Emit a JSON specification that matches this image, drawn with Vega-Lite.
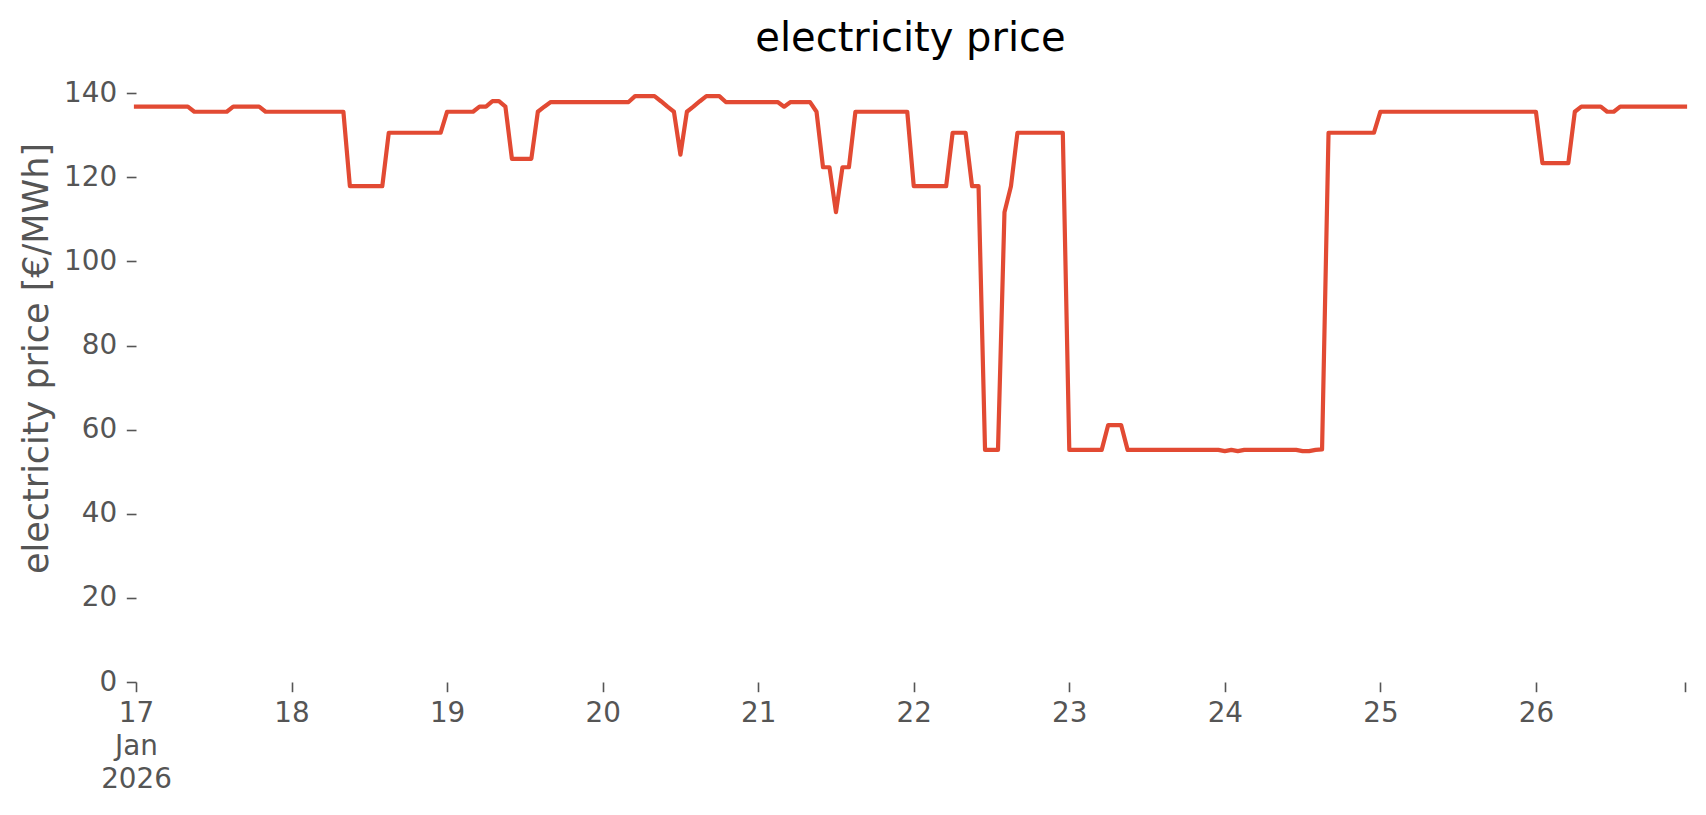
{
  "$schema": "https://vega.github.io/schema/vega-lite/v6.json",
  "autosize": {"type": "none"},
  "padding": {"left": 136, "top": 68, "right": 21, "bottom": 133},
  "width": 1549,
  "height": 614,
  "background": "white",
  "config": {"view": {"stroke": null}, "font": "DejaVu Sans"},
  "title": {"text": "electricity price", "fontSize": 40, "font": "DejaVu Sans", "fontWeight": "normal", "color": "#000000", "anchor": "middle", "frame": "group", "offset": -23, "baseline": "alphabetic"},
  "data": {"values": [
    {"t": "2026-01-17T00:00", "price": 136.8}, {"t": "2026-01-17T01:00", "price": 136.8}, {"t": "2026-01-17T02:00", "price": 136.8}, {"t": "2026-01-17T03:00", "price": 136.8},
    {"t": "2026-01-17T04:00", "price": 136.8}, {"t": "2026-01-17T05:00", "price": 136.8}, {"t": "2026-01-17T06:00", "price": 136.8}, {"t": "2026-01-17T07:00", "price": 136.8},
    {"t": "2026-01-17T08:00", "price": 136.8}, {"t": "2026-01-17T09:00", "price": 135.6}, {"t": "2026-01-17T10:00", "price": 135.6}, {"t": "2026-01-17T11:00", "price": 135.6},
    {"t": "2026-01-17T12:00", "price": 135.6}, {"t": "2026-01-17T13:00", "price": 135.6}, {"t": "2026-01-17T14:00", "price": 135.6}, {"t": "2026-01-17T15:00", "price": 136.8},
    {"t": "2026-01-17T16:00", "price": 136.8}, {"t": "2026-01-17T17:00", "price": 136.8}, {"t": "2026-01-17T18:00", "price": 136.8}, {"t": "2026-01-17T19:00", "price": 136.8},
    {"t": "2026-01-17T20:00", "price": 135.6}, {"t": "2026-01-17T21:00", "price": 135.6}, {"t": "2026-01-17T22:00", "price": 135.6}, {"t": "2026-01-17T23:00", "price": 135.6},
    {"t": "2026-01-18T00:00", "price": 135.6}, {"t": "2026-01-18T01:00", "price": 135.6}, {"t": "2026-01-18T02:00", "price": 135.6}, {"t": "2026-01-18T03:00", "price": 135.6},
    {"t": "2026-01-18T04:00", "price": 135.6}, {"t": "2026-01-18T05:00", "price": 135.6}, {"t": "2026-01-18T06:00", "price": 135.6}, {"t": "2026-01-18T07:00", "price": 135.6},
    {"t": "2026-01-18T08:00", "price": 135.6}, {"t": "2026-01-18T09:00", "price": 117.9}, {"t": "2026-01-18T10:00", "price": 117.9}, {"t": "2026-01-18T11:00", "price": 117.9},
    {"t": "2026-01-18T12:00", "price": 117.9}, {"t": "2026-01-18T13:00", "price": 117.9}, {"t": "2026-01-18T14:00", "price": 117.9}, {"t": "2026-01-18T15:00", "price": 130.6},
    {"t": "2026-01-18T16:00", "price": 130.6}, {"t": "2026-01-18T17:00", "price": 130.6}, {"t": "2026-01-18T18:00", "price": 130.6}, {"t": "2026-01-18T19:00", "price": 130.6},
    {"t": "2026-01-18T20:00", "price": 130.6}, {"t": "2026-01-18T21:00", "price": 130.6}, {"t": "2026-01-18T22:00", "price": 130.6}, {"t": "2026-01-18T23:00", "price": 130.6},
    {"t": "2026-01-19T00:00", "price": 135.6}, {"t": "2026-01-19T01:00", "price": 135.6}, {"t": "2026-01-19T02:00", "price": 135.6}, {"t": "2026-01-19T03:00", "price": 135.6},
    {"t": "2026-01-19T04:00", "price": 135.6}, {"t": "2026-01-19T05:00", "price": 136.8}, {"t": "2026-01-19T06:00", "price": 136.8}, {"t": "2026-01-19T07:00", "price": 138.1},
    {"t": "2026-01-19T08:00", "price": 138.1}, {"t": "2026-01-19T09:00", "price": 136.8}, {"t": "2026-01-19T10:00", "price": 124.4}, {"t": "2026-01-19T11:00", "price": 124.4},
    {"t": "2026-01-19T12:00", "price": 124.4}, {"t": "2026-01-19T13:00", "price": 124.4}, {"t": "2026-01-19T14:00", "price": 135.6}, {"t": "2026-01-19T15:00", "price": 136.8},
    {"t": "2026-01-19T16:00", "price": 137.9}, {"t": "2026-01-19T17:00", "price": 137.9}, {"t": "2026-01-19T18:00", "price": 137.9}, {"t": "2026-01-19T19:00", "price": 137.9},
    {"t": "2026-01-19T20:00", "price": 137.9}, {"t": "2026-01-19T21:00", "price": 137.9}, {"t": "2026-01-19T22:00", "price": 137.9}, {"t": "2026-01-19T23:00", "price": 137.9},
    {"t": "2026-01-20T00:00", "price": 137.9}, {"t": "2026-01-20T01:00", "price": 137.9}, {"t": "2026-01-20T02:00", "price": 137.9}, {"t": "2026-01-20T03:00", "price": 137.9},
    {"t": "2026-01-20T04:00", "price": 137.9}, {"t": "2026-01-20T05:00", "price": 139.3}, {"t": "2026-01-20T06:00", "price": 139.3}, {"t": "2026-01-20T07:00", "price": 139.3},
    {"t": "2026-01-20T08:00", "price": 139.3}, {"t": "2026-01-20T09:00", "price": 138.1}, {"t": "2026-01-20T10:00", "price": 136.8}, {"t": "2026-01-20T11:00", "price": 135.6},
    {"t": "2026-01-20T12:00", "price": 125.4}, {"t": "2026-01-20T13:00", "price": 135.6}, {"t": "2026-01-20T14:00", "price": 136.8}, {"t": "2026-01-20T15:00", "price": 138.1},
    {"t": "2026-01-20T16:00", "price": 139.3}, {"t": "2026-01-20T17:00", "price": 139.3}, {"t": "2026-01-20T18:00", "price": 139.3}, {"t": "2026-01-20T19:00", "price": 137.9},
    {"t": "2026-01-20T20:00", "price": 137.9}, {"t": "2026-01-20T21:00", "price": 137.9}, {"t": "2026-01-20T22:00", "price": 137.9}, {"t": "2026-01-20T23:00", "price": 137.9},
    {"t": "2026-01-21T00:00", "price": 137.9}, {"t": "2026-01-21T01:00", "price": 137.9}, {"t": "2026-01-21T02:00", "price": 137.9}, {"t": "2026-01-21T03:00", "price": 137.9},
    {"t": "2026-01-21T04:00", "price": 136.8}, {"t": "2026-01-21T05:00", "price": 137.9}, {"t": "2026-01-21T06:00", "price": 137.9}, {"t": "2026-01-21T07:00", "price": 137.9},
    {"t": "2026-01-21T08:00", "price": 137.9}, {"t": "2026-01-21T09:00", "price": 135.6}, {"t": "2026-01-21T10:00", "price": 122.4}, {"t": "2026-01-21T11:00", "price": 122.4},
    {"t": "2026-01-21T12:00", "price": 111.7}, {"t": "2026-01-21T13:00", "price": 122.4}, {"t": "2026-01-21T14:00", "price": 122.4}, {"t": "2026-01-21T15:00", "price": 135.6},
    {"t": "2026-01-21T16:00", "price": 135.6}, {"t": "2026-01-21T17:00", "price": 135.6}, {"t": "2026-01-21T18:00", "price": 135.6}, {"t": "2026-01-21T19:00", "price": 135.6},
    {"t": "2026-01-21T20:00", "price": 135.6}, {"t": "2026-01-21T21:00", "price": 135.6}, {"t": "2026-01-21T22:00", "price": 135.6}, {"t": "2026-01-21T23:00", "price": 135.6},
    {"t": "2026-01-22T00:00", "price": 117.9}, {"t": "2026-01-22T01:00", "price": 117.9}, {"t": "2026-01-22T02:00", "price": 117.9}, {"t": "2026-01-22T03:00", "price": 117.9},
    {"t": "2026-01-22T04:00", "price": 117.9}, {"t": "2026-01-22T05:00", "price": 117.9}, {"t": "2026-01-22T06:00", "price": 130.6}, {"t": "2026-01-22T07:00", "price": 130.6},
    {"t": "2026-01-22T08:00", "price": 130.6}, {"t": "2026-01-22T09:00", "price": 117.9}, {"t": "2026-01-22T10:00", "price": 117.9}, {"t": "2026-01-22T11:00", "price": 55.2},
    {"t": "2026-01-22T12:00", "price": 55.2}, {"t": "2026-01-22T13:00", "price": 55.2}, {"t": "2026-01-22T14:00", "price": 111.7}, {"t": "2026-01-22T15:00", "price": 117.9},
    {"t": "2026-01-22T16:00", "price": 130.6}, {"t": "2026-01-22T17:00", "price": 130.6}, {"t": "2026-01-22T18:00", "price": 130.6}, {"t": "2026-01-22T19:00", "price": 130.6},
    {"t": "2026-01-22T20:00", "price": 130.6}, {"t": "2026-01-22T21:00", "price": 130.6}, {"t": "2026-01-22T22:00", "price": 130.6}, {"t": "2026-01-22T23:00", "price": 130.6},
    {"t": "2026-01-23T00:00", "price": 55.2}, {"t": "2026-01-23T01:00", "price": 55.2}, {"t": "2026-01-23T02:00", "price": 55.2}, {"t": "2026-01-23T03:00", "price": 55.2},
    {"t": "2026-01-23T04:00", "price": 55.2}, {"t": "2026-01-23T05:00", "price": 55.2}, {"t": "2026-01-23T06:00", "price": 61.1}, {"t": "2026-01-23T07:00", "price": 61.1},
    {"t": "2026-01-23T08:00", "price": 61.1}, {"t": "2026-01-23T09:00", "price": 55.2}, {"t": "2026-01-23T10:00", "price": 55.2}, {"t": "2026-01-23T11:00", "price": 55.2},
    {"t": "2026-01-23T12:00", "price": 55.2}, {"t": "2026-01-23T13:00", "price": 55.2}, {"t": "2026-01-23T14:00", "price": 55.2}, {"t": "2026-01-23T15:00", "price": 55.2},
    {"t": "2026-01-23T16:00", "price": 55.2}, {"t": "2026-01-23T17:00", "price": 55.2}, {"t": "2026-01-23T18:00", "price": 55.2}, {"t": "2026-01-23T19:00", "price": 55.2},
    {"t": "2026-01-23T20:00", "price": 55.2}, {"t": "2026-01-23T21:00", "price": 55.2}, {"t": "2026-01-23T22:00", "price": 55.2}, {"t": "2026-01-23T23:00", "price": 55.2},
    {"t": "2026-01-24T00:00", "price": 54.9}, {"t": "2026-01-24T01:00", "price": 55.2}, {"t": "2026-01-24T02:00", "price": 54.9}, {"t": "2026-01-24T03:00", "price": 55.2},
    {"t": "2026-01-24T04:00", "price": 55.2}, {"t": "2026-01-24T05:00", "price": 55.2}, {"t": "2026-01-24T06:00", "price": 55.2}, {"t": "2026-01-24T07:00", "price": 55.2},
    {"t": "2026-01-24T08:00", "price": 55.2}, {"t": "2026-01-24T09:00", "price": 55.2}, {"t": "2026-01-24T10:00", "price": 55.2}, {"t": "2026-01-24T11:00", "price": 55.2},
    {"t": "2026-01-24T12:00", "price": 54.9}, {"t": "2026-01-24T13:00", "price": 54.9}, {"t": "2026-01-24T14:00", "price": 55.2}, {"t": "2026-01-24T15:00", "price": 55.3},
    {"t": "2026-01-24T16:00", "price": 130.6}, {"t": "2026-01-24T17:00", "price": 130.6}, {"t": "2026-01-24T18:00", "price": 130.6}, {"t": "2026-01-24T19:00", "price": 130.6},
    {"t": "2026-01-24T20:00", "price": 130.6}, {"t": "2026-01-24T21:00", "price": 130.6}, {"t": "2026-01-24T22:00", "price": 130.6}, {"t": "2026-01-24T23:00", "price": 130.6},
    {"t": "2026-01-25T00:00", "price": 135.6}, {"t": "2026-01-25T01:00", "price": 135.6}, {"t": "2026-01-25T02:00", "price": 135.6}, {"t": "2026-01-25T03:00", "price": 135.6},
    {"t": "2026-01-25T04:00", "price": 135.6}, {"t": "2026-01-25T05:00", "price": 135.6}, {"t": "2026-01-25T06:00", "price": 135.6}, {"t": "2026-01-25T07:00", "price": 135.6},
    {"t": "2026-01-25T08:00", "price": 135.6}, {"t": "2026-01-25T09:00", "price": 135.6}, {"t": "2026-01-25T10:00", "price": 135.6}, {"t": "2026-01-25T11:00", "price": 135.6},
    {"t": "2026-01-25T12:00", "price": 135.6}, {"t": "2026-01-25T13:00", "price": 135.6}, {"t": "2026-01-25T14:00", "price": 135.6}, {"t": "2026-01-25T15:00", "price": 135.6},
    {"t": "2026-01-25T16:00", "price": 135.6}, {"t": "2026-01-25T17:00", "price": 135.6}, {"t": "2026-01-25T18:00", "price": 135.6}, {"t": "2026-01-25T19:00", "price": 135.6},
    {"t": "2026-01-25T20:00", "price": 135.6}, {"t": "2026-01-25T21:00", "price": 135.6}, {"t": "2026-01-25T22:00", "price": 135.6}, {"t": "2026-01-25T23:00", "price": 135.6},
    {"t": "2026-01-26T00:00", "price": 135.6}, {"t": "2026-01-26T01:00", "price": 123.4}, {"t": "2026-01-26T02:00", "price": 123.4}, {"t": "2026-01-26T03:00", "price": 123.4},
    {"t": "2026-01-26T04:00", "price": 123.4}, {"t": "2026-01-26T05:00", "price": 123.4}, {"t": "2026-01-26T06:00", "price": 135.6}, {"t": "2026-01-26T07:00", "price": 136.8},
    {"t": "2026-01-26T08:00", "price": 136.8}, {"t": "2026-01-26T09:00", "price": 136.8}, {"t": "2026-01-26T10:00", "price": 136.8}, {"t": "2026-01-26T11:00", "price": 135.6},
    {"t": "2026-01-26T12:00", "price": 135.6}, {"t": "2026-01-26T13:00", "price": 136.8}, {"t": "2026-01-26T14:00", "price": 136.8}, {"t": "2026-01-26T15:00", "price": 136.8},
    {"t": "2026-01-26T16:00", "price": 136.8}, {"t": "2026-01-26T17:00", "price": 136.8}, {"t": "2026-01-26T18:00", "price": 136.8}, {"t": "2026-01-26T19:00", "price": 136.8},
    {"t": "2026-01-26T20:00", "price": 136.8}, {"t": "2026-01-26T21:00", "price": 136.8}, {"t": "2026-01-26T22:00", "price": 136.8}, {"t": "2026-01-26T23:00", "price": 136.8}
  ]},
  "mark": {"type": "line", "color": "#E24A33", "strokeWidth": 4.2, "strokeJoin": "round", "strokeCap": "square"},
  "encoding": {
    "x": {
      "field": "t", "type": "temporal",
      "scale": {"domain": [{"year": 2026, "month": 1, "date": 17}, {"year": 2026, "month": 1, "date": 26, "hours": 23}], "nice": false},
      "axis": {
        "title": null, "grid": false, "domain": false,
        "values": [{"year": 2026, "month": 1, "date": 17}, {"year": 2026, "month": 1, "date": 18}, {"year": 2026, "month": 1, "date": 19}, {"year": 2026, "month": 1, "date": 20}, {"year": 2026, "month": 1, "date": 21}, {"year": 2026, "month": 1, "date": 22}, {"year": 2026, "month": 1, "date": 23}, {"year": 2026, "month": 1, "date": 24}, {"year": 2026, "month": 1, "date": 25}, {"year": 2026, "month": 1, "date": 26}, {"year": 2026, "month": 1, "date": 26, "hours": 23}],
        "labelExpr": "timeFormat(datum.value,'%H') != '00' ? '' : (timeFormat(datum.value,'%d') == '17' ? ['17','Jan','2026'] : timeFormat(datum.value,'%-d'))",
        "labelFont": "DejaVu Sans", "labelFontSize": 27.8, "labelColor": "#555555", "labelLineHeight": 33,
        "labelFlush": false, "labelOverlap": false, "labelBound": false,
        "tickColor": "#555555", "tickSize": 9.7, "tickWidth": 1.6, "labelPadding": 8, "labelBaseline": "top"
      }
    },
    "y": {
      "field": "price", "type": "quantitative",
      "scale": {"domain": [0, 146], "nice": false, "zero": true},
      "axis": {
        "title": "electricity price [€/MWh]", "grid": false, "domain": false,
        "values": [0, 20, 40, 60, 80, 100, 120, 140],
        "labelFont": "DejaVu Sans", "labelFontSize": 27.8, "labelColor": "#555555",
        "tickColor": "#555555", "tickSize": 9.7, "tickWidth": 1.6, "labelPadding": 9.7,
        "titleFont": "DejaVu Sans", "titleFontSize": 35, "titleFontWeight": "normal", "titleColor": "#555555",
        "titleX": -100, "titleY": 290, "titleBaseline": "middle", "titleAngle": -90
      }
    }
  }
}
